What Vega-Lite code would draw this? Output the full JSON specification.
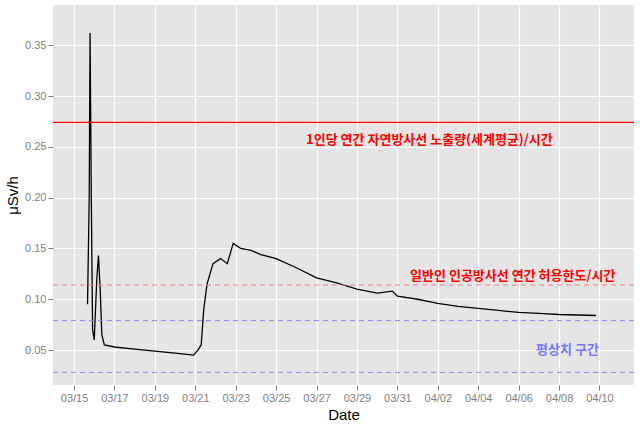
{
"$schema":"https://vega.github.io/schema/vega-lite/v6.json",
"width":640,"height":427,
"autosize":{"type":"fit","contains":"padding"},
"background":"white",
"config":{"view":{"fill":"#E5E5E5","stroke":null},"font":"Noto Sans CJK KR",
"axis":{"domain":false,"tickColor":"#7F7F7F","labelColor":"#7F7F7F","labelFont":"Liberation Sans","titleFont":"Liberation Sans","labelFontSize":11,"titleFontSize":15,"titleFontWeight":"normal","gridColor":"white","gridWidth":1.2}},
"datasets":{
"s":[
{"t":"2011-03-15T16:00","v":0.095},{"t":"2011-03-15T18:00","v":0.2},{"t":"2011-03-15T19:00","v":0.362},{"t":"2011-03-15T20:30","v":0.2},{"t":"2011-03-15T22:00","v":0.07},{"t":"2011-03-16T00:00","v":0.06},{"t":"2011-03-16T03:00","v":0.12},{"t":"2011-03-16T05:00","v":0.143},{"t":"2011-03-16T07:00","v":0.11},{"t":"2011-03-16T09:00","v":0.065},{"t":"2011-03-16T12:00","v":0.055},{"t":"2011-03-17T00:00","v":0.053},{"t":"2011-03-18T00:00","v":0.051},{"t":"2011-03-19T00:00","v":0.049},{"t":"2011-03-20T00:00","v":0.047},{"t":"2011-03-20T22:00","v":0.045},{"t":"2011-03-21T03:00","v":0.05},{"t":"2011-03-21T07:00","v":0.055},{"t":"2011-03-21T10:00","v":0.09},{"t":"2011-03-21T14:00","v":0.115},{"t":"2011-03-21T21:00","v":0.135},{"t":"2011-03-22T06:00","v":0.14},{"t":"2011-03-22T14:00","v":0.135},{"t":"2011-03-22T21:00","v":0.155},{"t":"2011-03-23T06:00","v":0.15},{"t":"2011-03-23T18:00","v":0.148},{"t":"2011-03-24T06:00","v":0.144},{"t":"2011-03-25T00:00","v":0.14},{"t":"2011-03-26T00:00","v":0.131},{"t":"2011-03-27T00:00","v":0.121},{"t":"2011-03-28T00:00","v":0.116},{"t":"2011-03-29T00:00","v":0.11},{"t":"2011-03-30T00:00","v":0.106},{"t":"2011-03-30T18:00","v":0.108},{"t":"2011-03-31T00:00","v":0.103},{"t":"2011-04-01T00:00","v":0.1},{"t":"2011-04-02T00:00","v":0.096},{"t":"2011-04-03T00:00","v":0.093},{"t":"2011-04-04T00:00","v":0.091},{"t":"2011-04-05T00:00","v":0.089},{"t":"2011-04-06T00:00","v":0.087},{"t":"2011-04-07T00:00","v":0.086},{"t":"2011-04-08T00:00","v":0.085},{"t":"2011-04-09T20:00","v":0.084}],
"lab":[{"t":"2011-04-01T14:00","y":0.257,"s":"1인당 연간 자연방사선 노출량(세계평균)/시간","c":"red"},{"t":"2011-04-05T17:00","y":0.123,"s":"일반인 인공방사선 연간 허용한도/시간","c":"red"},{"t":"2011-04-08T10:00","y":0.05,"s":"평상치 구간","c":"#7777FF"}]
},
"layer":[
{"data":{"name":"s"},"mark":{"type":"line","color":"black","strokeWidth":1.3},"encoding":{
"x":{"field":"t","type":"temporal","title":"Date","scale":{"domain":[{"year":2011,"month":3,"date":13,"hours":23},{"year":2011,"month":4,"date":11,"hours":17}]},"axis":{"format":"%m/%d","values":[{"year":2011,"month":3,"date":15},{"year":2011,"month":3,"date":17},{"year":2011,"month":3,"date":19},{"year":2011,"month":3,"date":21},{"year":2011,"month":3,"date":23},{"year":2011,"month":3,"date":25},{"year":2011,"month":3,"date":27},{"year":2011,"month":3,"date":29},{"year":2011,"month":3,"date":31},{"year":2011,"month":4,"date":2},{"year":2011,"month":4,"date":4},{"year":2011,"month":4,"date":6},{"year":2011,"month":4,"date":8},{"year":2011,"month":4,"date":10}]}},
"y":{"field":"v","type":"quantitative","title":"μSv/h","scale":{"domain":[0.0156,0.3896],"nice":false,"zero":false},"axis":{"format":".2f","values":[0.05,0.1,0.15,0.2,0.25,0.3,0.35]}}}},
{"data":{"values":[{"y":0.274}]},"mark":{"type":"rule","color":"#FF0000","strokeWidth":1.2},"encoding":{"y":{"field":"y","type":"quantitative"}}},
{"data":{"values":[{"y":0.114}]},"mark":{"type":"rule","color":"#F08080","strokeDash":[5,4]},"encoding":{"y":{"field":"y","type":"quantitative"}}},
{"data":{"values":[{"y":0.079},{"y":0.028}]},"mark":{"type":"rule","color":"#8888FF","strokeDash":[5,4]},"encoding":{"y":{"field":"y","type":"quantitative"}}},
{"data":{"name":"lab"},"mark":{"type":"text","fontWeight":"bold","fontSize":13},"encoding":{"x":{"field":"t","type":"temporal"},"y":{"field":"y","type":"quantitative"},"text":{"field":"s"},"color":{"field":"c","type":"nominal","scale":null}}}
]
}
